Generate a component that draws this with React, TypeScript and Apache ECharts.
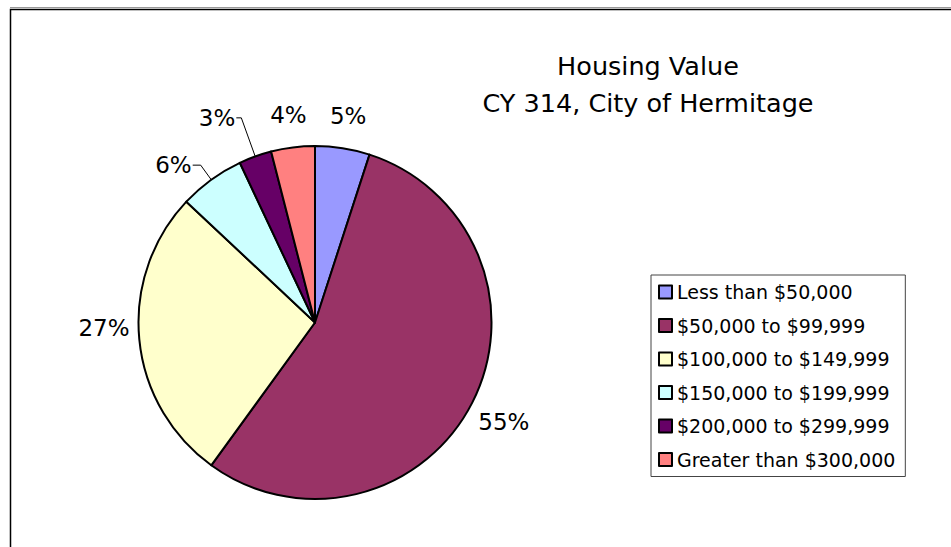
import React, { useEffect, useRef } from "react";
import * as echarts from "echarts";

const categories = [
  "Less than $50,000",
  "$50,000 to $99,999",
  "$100,000 to $149,999",
  "$150,000 to $199,999",
  "$200,000 to $299,999",
  "Greater than $300,000",
];
const values = [5, 55, 27, 6, 3, 4];
const colors = ["#9999FF", "#993366", "#FFFFCC", "#CCFFFF", "#660066", "#FF8080"];
const titleLines = ["Housing Value", "CY 314, City of Hermitage"];

const FONT = "'DejaVu Sans', sans-serif";

export default function App() {
  const ref = useRef<HTMLDivElement>(null);

  useEffect(() => {
    if (!ref.current) return;
    const chart = echarts.init(ref.current, undefined, { renderer: "svg" });

    const leader: Record<number, { length: number; length2: number }> = {
      3: { length: 18, length2: 8 },
      4: { length: 41, length2: 5 },
    };
    const labelOffsets: Record<number, number[]> = { 2: [0, -14] };
    const pct = (p: any) => Math.round(p.percent) + "%";
    const center = [315, 322.5];

    chart.setOption({
      animation: false,
      textStyle: { fontFamily: FONT },
      title: {
        text: titleLines.join("\n"),
        left: 643,
        top: 42,
        textAlign: "center",
        textStyle: {
          fontFamily: FONT,
          fontSize: 25.5,
          fontWeight: "normal",
          lineHeight: 37,
          color: "#000",
        },
      },
      legend: {
        orient: "vertical",
        left: 651,
        top: 275,
        data: categories,
        itemWidth: 13,
        itemHeight: 13,
        itemGap: 13.5,
        padding: [7, 10, 7, 7],
        borderColor: "#444",
        borderWidth: 1,
        selectedMode: false,
        icon: "rect",
        textStyle: { fontFamily: FONT, fontSize: 19, lineHeight: 20, color: "#000" },
      },
      graphic: [
        {
          type: "line",
          shape: { x1: 10, y1: 7.5, x2: 951, y2: 7.5 },
          style: { stroke: "#999", lineWidth: 1 },
          silent: true,
        },
        {
          type: "polyline",
          shape: { points: [[10.5, 560], [10.5, 9.5], [960, 9.5]] },
          style: { stroke: "#000", lineWidth: 1.5, fill: null },
          silent: true,
        },
      ],
      series: [
        {
          type: "pie",
          name: "Housing Value",
          center,
          radius: 176.5,
          startAngle: 90,
          clockwise: true,
          avoidLabelOverlap: false,
          emphasis: { disabled: true },
          itemStyle: { borderColor: "#000", borderWidth: 2 },
          label: {
            show: false,
            position: "outside",
            formatter: pct,
            fontFamily: FONT,
            fontSize: 23,
            color: "#000",
            distanceToLabelLine: 1,
          },
          labelLine: { show: false, lineStyle: { color: "#000", width: 1 } },
          data: categories.map((name, i) => ({
            name,
            value: values[i],
            itemStyle: { color: colors[i] },
            label: { show: !!leader[i] },
            labelLine: leader[i]
              ? { show: true, length: leader[i].length, length2: leader[i].length2 }
              : { show: false },
          })),
        },
        {
          type: "pie",
          name: "labels",
          center,
          radius: [195, 223],
          startAngle: 90,
          clockwise: true,
          silent: true,
          legendHoverLink: false,
          emphasis: { disabled: true },
          itemStyle: { color: "rgba(0,0,0,0)", borderWidth: 0 },
          label: {
            show: true,
            position: "inside",
            formatter: pct,
            fontFamily: FONT,
            fontSize: 23,
            color: "#000",
          },
          labelLine: { show: false },
          data: categories.map((name, i) => ({
            name,
            value: values[i],
            label: {
              show: !leader[i],
              offset: labelOffsets[i] || [0, 3],
            },
          })),
        },
      ],
    });

    return () => chart.dispose();
  }, []);

  return (
    <div
      ref={ref}
      style={{ position: "fixed", left: 0, top: 0, width: 951, height: 547, background: "#fff" }}
    />
  );
}
